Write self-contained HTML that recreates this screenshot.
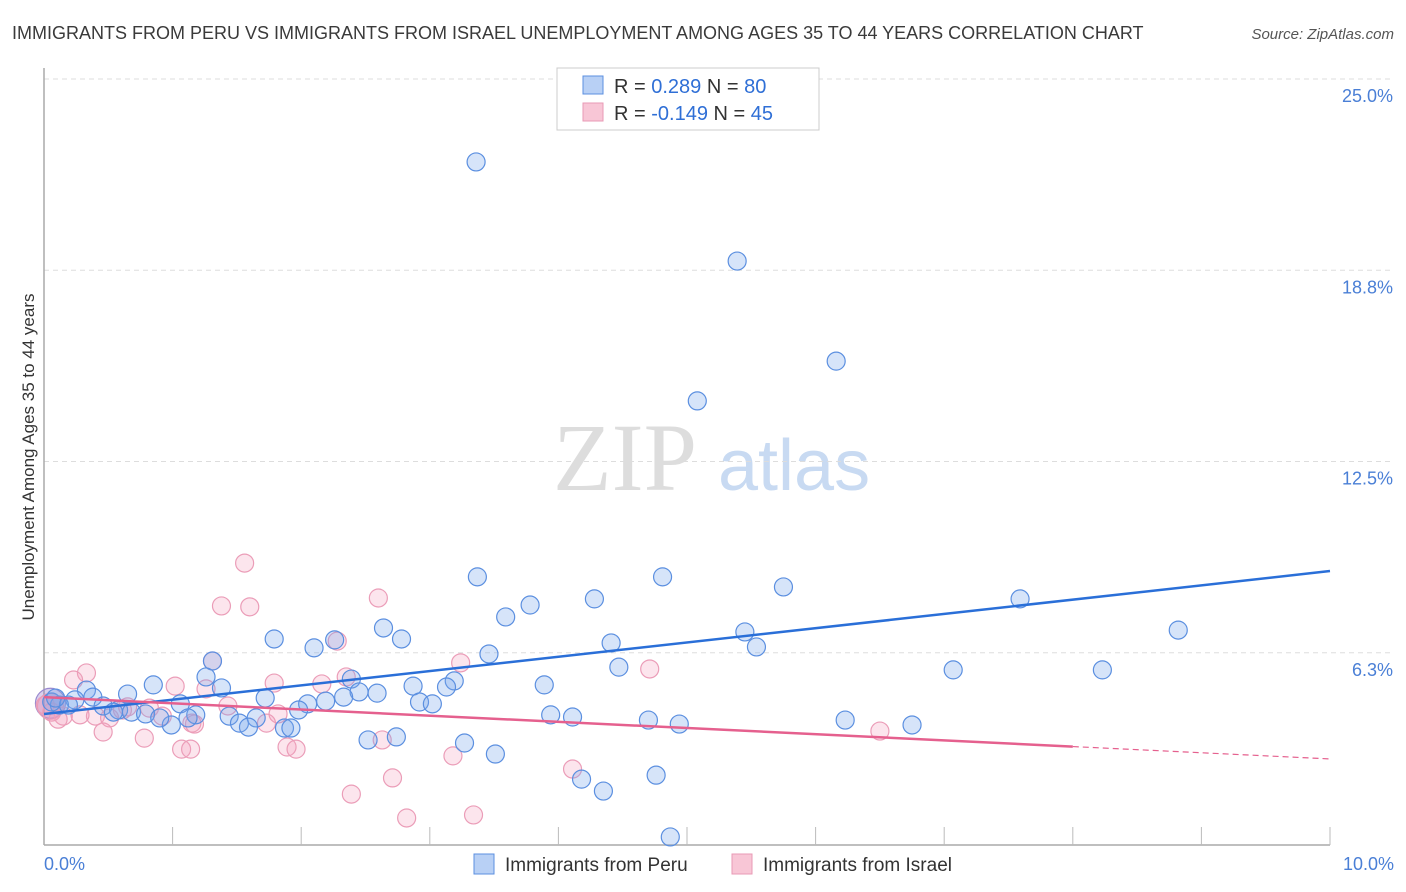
<!DOCTYPE html>
<html><head><meta charset="utf-8"><style>
body{margin:0;background:#fff;font-family:"Liberation Sans",sans-serif;}
svg{display:block}
</style></head><body>
<svg id="chart" width="1406" height="892" viewBox="0 0 1406 892" xmlns="http://www.w3.org/2000/svg" font-family="Liberation Sans, sans-serif">
<text x="12" y="39" font-size="18" fill="#3a3a3a">IMMIGRANTS FROM PERU VS IMMIGRANTS FROM ISRAEL UNEMPLOYMENT AMONG AGES 35 TO 44 YEARS CORRELATION CHART</text>
<text x="1394" y="39" font-size="15" fill="#555" text-anchor="end" font-style="italic">Source: ZipAtlas.com</text>
<g>
<text x="553" y="490" font-size="96" fill="#ddd" font-family="Liberation Serif, serif">ZIP</text>
<text x="718" y="490" font-size="72" fill="#c8daf2">atlas</text>
</g>
<g id="grid"></g>
<g id="axes"></g>
<g id="trend"></g>
<g id="pts"></g>
<text transform="translate(34,457) rotate(-90)" text-anchor="middle" font-size="17" fill="#333">Unemployment Among Ages 35 to 44 years</text>
<g>
<rect x="557" y="68" width="262" height="62" fill="#fff" stroke="#ccc"/>
<rect x="583" y="76" width="20" height="18" fill="#b8d0f5" stroke="#5b8fe0"/>
<rect x="583" y="103" width="20" height="18" fill="#f8c6d6" stroke="#e89ab5"/>
<text x="614" y="93" font-size="20" fill="#333">R =  <tspan fill="#2f6fd6">0.289</tspan>   N = <tspan fill="#2f6fd6">80</tspan></text>
<text x="614" y="120" font-size="20" fill="#333">R = <tspan fill="#2f6fd6">-0.149</tspan>   N = <tspan fill="#2f6fd6">45</tspan></text>
</g>
<g>
<rect x="474" y="854" width="20" height="20" fill="#b8d0f5" stroke="#5b8fe0"/>
<text x="505" y="871" font-size="19" fill="#333">Immigrants from Peru</text>
<rect x="732" y="854" width="20" height="20" fill="#f8c6d6" stroke="#e89ab5"/>
<text x="763" y="871" font-size="19" fill="#333">Immigrants from Israel</text>
</g>
</svg>
<script>
const yTicks=[25.0,18.8,12.5,6.3];
const yTickVals=[25,18.75,12.5,6.25];
const xTickLabels=["0.0%","10.0%"];
const peruX=[3.36,5.39,6.16,5.08,3.37,4.81,5.75,3.78,4.28,7.59,3.59,2.64,8.82,1.79,2.78,5.45,4.41,2.26,2.10,3.46,5.54,1.31,4.47,7.07,8.23,1.26,2.39,3.19,0.85,1.38,2.87,3.89,3.13,2.59,2.45,0.65,0.33,1.72,0.38,2.33,2.19,2.92,3.02,2.05,1.06,0.24,0.46,0.58,0.68,0.79,0.12,0.06,0.19,0.54,1.18,1.44,1.12,1.98,3.94,4.11,6.23,4.70,6.75,4.94,0.99,1.52,1.65,1.59,1.87,1.92,2.52,2.74,3.27,3.51,4.18,4.35,4.76,4.87,0.09,0.90];
const peruY=[22.29,19.05,15.78,14.48,8.73,8.73,8.40,7.81,8.01,8.01,7.42,7.06,6.99,6.70,6.70,6.93,6.57,6.67,6.41,6.21,6.44,5.98,5.78,5.69,5.69,5.46,5.39,5.33,5.20,5.10,5.16,5.20,5.13,4.93,4.97,4.90,5.03,4.77,4.80,4.80,4.67,4.64,4.58,4.58,4.58,4.71,4.51,4.38,4.31,4.25,4.54,4.64,4.54,4.31,4.22,4.18,4.12,4.38,4.22,4.15,4.05,4.05,3.89,3.92,3.89,3.95,4.12,3.82,3.79,3.79,3.40,3.50,3.30,2.94,2.12,1.73,2.25,0.23,4.77,4.12];
const israelX=[1.56,1.38,1.60,2.60,2.28,1.31,0.33,0.23,3.24,4.71,2.35,2.16,1.79,1.02,1.26,1.43,1.82,0.82,0.65,0.40,0.15,0.06,0.11,0.28,0.61,0.51,0.92,1.15,1.73,1.17,0.46,0.78,1.07,1.14,1.89,1.96,2.63,6.50,3.18,4.11,2.71,2.39,2.82,3.34,0.01];
const israelY=[9.18,7.78,7.75,8.04,6.63,5.98,5.59,5.36,5.92,5.72,5.46,5.23,5.26,5.16,5.07,4.51,4.25,4.44,4.48,4.18,4.18,4.31,4.08,4.22,4.38,4.12,4.18,3.95,3.95,3.92,3.66,3.46,3.10,3.10,3.17,3.10,3.40,3.69,2.88,2.45,2.16,1.63,0.85,0.95,4.54];
const peruTrend=[4.25,8.92];
const israelTrend=[4.80,2.78];
const israelSolidEnd=8.0;

const NS="http://www.w3.org/2000/svg";
const X=v=>44+v*128.6, Y=v=>844-v*30.6;
function mk(tag,attrs,parent){const e=document.createElementNS(NS,tag);for(const k in attrs)e.setAttribute(k,attrs[k]);document.getElementById(parent).appendChild(e);return e;}
yTickVals.forEach((v,i)=>{
 const l=mk('line',{x1:44,x2:1394,y1:Y(v),y2:Y(v),stroke:'#ddd','stroke-dasharray':'5,4'},'grid');
 
 
 const t=mk('text',{x:1393,y:Y(v)+23,'text-anchor':'end','font-size':18,fill:'#4a7fd6'},'grid');
 t.textContent=yTicks[i].toFixed(1)+'%';
 
 
});
const ax=mk('line',{x1:44,x2:44,y1:68,y2:845,stroke:'#aaa','stroke-width':1.5},'axes');


const bx=mk('line',{x1:44,x2:1330,y1:845,y2:845,stroke:'#aaa','stroke-width':1.5},'axes');


for(let i=1;i<=10;i++){
 const t=mk('line',{x1:X(i),x2:X(i),y1:827,y2:845,stroke:'#bbb'},'axes');
 
 
}
[[0,'start',44],[10,'end',1394]].forEach((d,i)=>{
 const t=mk('text',{x:d[2],y:870,'text-anchor':d[1],'font-size':18,fill:'#4a7fd6'},'axes');
 t.textContent=xTickLabels[i];
 
 
});
function dot(x,y,r,fill,stroke,name){
 const c=mk('circle',{cx:X(x),cy:Y(y),r:r,fill:fill,stroke:stroke,'stroke-width':1.2},'pts');
 
 
}
dot(0.05,4.6,15,'rgba(150,120,200,0.35)','#9a8ad0','peru-cluster-point');
dot(0.05,4.5,13,'rgba(230,140,180,0.3)','#e89ab5','israel-cluster-point');
israelX.forEach((x,i)=>dot(x,israelY[i],9,'rgba(244,160,190,0.28)','#eb9db8','israel-point'));
peruX.forEach((x,i)=>dot(x,peruY[i],9,'rgba(120,165,235,0.3)','#5b8fe0','peru-point'));
const pt=mk('line',{x1:X(0),y1:Y(peruTrend[0]),x2:X(10),y2:Y(peruTrend[1]),stroke:'#2a6fd8','stroke-width':2.5},'trend');


const yAt=x=>israelTrend[0]+(israelTrend[1]-israelTrend[0])*x/10;
const it=mk('line',{x1:X(0),y1:Y(israelTrend[0]),x2:X(israelSolidEnd),y2:Y(yAt(israelSolidEnd)),stroke:'#e5608e','stroke-width':2.5},'trend');


const id=mk('line',{x1:X(israelSolidEnd),y1:Y(yAt(israelSolidEnd)),x2:X(10),y2:Y(israelTrend[1]),stroke:'#e5608e','stroke-width':1.2,'stroke-dasharray':'6,4'},'trend');


document.getElementById('chart').appendChild(document.getElementById('trend'));
</script>
</body></html>
